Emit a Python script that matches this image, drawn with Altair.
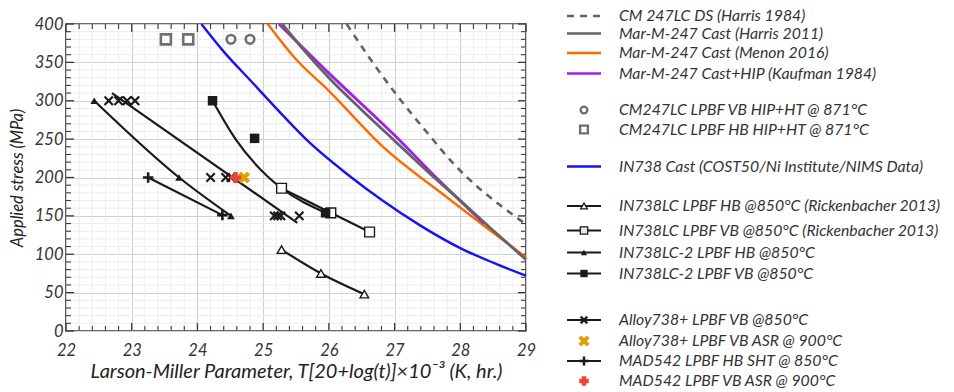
import altair as alt
import pandas as pd

# ---------------- reference curves ----------------
cm247ds_x = [26.27, 26.65, 27.1, 27.5, 27.93, 28.26, 28.62, 29.0]
cm247ds_y = [400, 352, 300, 258, 215, 188, 163, 139]

harris_x = [25.29, 25.6, 26.0, 26.5, 27.0, 27.5, 28.0, 28.5, 29.0]
harris_y = [400, 368, 330, 288, 248, 208, 170, 131, 93]

menon_x = [25.07, 25.5, 26.0, 26.8, 27.8, 28.44, 29.0]
menon_y = [400, 354, 313, 242, 174, 132, 96]

kaufman_x = [25.24, 26.0, 27.0, 27.68, 28.36]
kaufman_y = [400, 336, 255, 196, 140]

in738cast_x = [24.06, 24.4, 24.8, 25.3, 25.7, 26.3, 26.8, 27.4, 28.0, 28.5, 29.0]
in738cast_y = [400, 364, 327, 281, 246, 203, 171, 137, 108, 89, 72]

# ---------------- LPBF data points ----------------
cm247_vb_x = [24.51, 24.80]
cm247_vb_y = [380, 380]
cm247_hb_x = [23.52, 23.86]
cm247_hb_y = [380, 380]

rick_hb_x = [25.28, 25.88, 26.54]
rick_hb_y = [106, 75, 48]
rick_vb_x = [25.28, 26.03, 26.62]
rick_vb_y = [186, 154, 129]

lc2_hb_x = [22.43, 23.72, 24.51]
lc2_hb_y = [300, 200, 150]
lc2_vb_x = [24.23, 24.87, 25.95]
lc2_vb_y = [300, 251, 154]
lc2_vb_fit_x = [24.23, 24.58, 25.06, 25.28, 25.95]
lc2_vb_fit_y = [300, 250, 202, 186, 154]

alloy_x = [22.65, 22.80, 22.93, 23.05, 24.20, 24.43, 24.51, 25.17, 25.22, 25.27, 25.55]
alloy_y = [300, 300, 300, 300, 200, 200, 200, 150, 150, 150, 150]
alloy_fit_x = [22.70, 25.52]
alloy_fit_y = [310, 141]
alloy_asr_x = [24.71]
alloy_asr_y = [200]

mad_hb_x = [23.25, 24.38]
mad_hb_y = [200, 151]
mad_vb_x = [24.58]
mad_vb_y = [200]

# axis ticks
x_major = [22, 23, 24, 25, 26, 27, 28, 29]
x_minor = [round(22 + 0.2 * i, 1) for i in range(36) if i % 5 != 0]
y_major = [0, 50, 100, 150, 200, 250, 300, 350, 400]
y_minor = [v for v in range(0, 401, 10) if v % 50 != 0]

# legend
legend_labels = [
    "CM 247LC DS (Harris 1984)",
    "Mar-M-247 Cast (Harris 2011)",
    "Mar-M-247 Cast (Menon 2016)",
    "Mar-M-247 Cast+HIP (Kaufman 1984)",
    "CM247LC LPBF VB HIP+HT @ 871°C",
    "CM247LC LPBF HB HIP+HT @ 871°C",
    "IN738 Cast (COST50/Ni Institute/NIMS Data)",
    "IN738LC LPBF HB @850°C (Rickenbacher 2013)",
    "IN738LC LPBF VB @850°C (Rickenbacher 2013)",
    "IN738LC-2 LPBF HB @850°C",
    "IN738LC-2 LPBF VB @850°C",
    "Alloy738+ LPBF VB @850°C",
    "Alloy738+ LPBF VB ASR @ 900°C",
    "MAD542 LPBF HB SHT @ 850°C",
    "MAD542 LPBF VB ASR @ 900°C",
]
legend_rows = [15, 32.5, 52, 72.5, 109, 128.5, 165.5, 205, 229.5, 251.5, 272.5, 319, 340, 360, 380]

# ---------------- styling ----------------
FONT = "Lato"
GRAY = "#646464"
ORANGE = "#FF6A00"
PURPLE = "#A020E8"
BLUE = "#1414F5"
MARK_GRAY = "#707070"
GOLD = "#E0A000"
RED = "#E8453C"
INK = "#1a1a1a"
TICK = "#3a3a3a"
X_PATH = "M-1,-1L1,1M-1,1L1,-1"
PLUS_PATH = "M-1,0L1,0M0,-1L0,1"
W, H = 460, 307

xs = alt.Scale(domain=[22, 29], nice=False, zero=False)
ys = alt.Scale(domain=[0, 400], nice=False, zero=False)


def df(x, y):
    return pd.DataFrame({"x": x, "y": y, "o": list(range(len(x)))})


def enc(chart):
    return chart.encode(
        x=alt.X("x:Q", scale=xs, axis=None),
        y=alt.Y("y:Q", scale=ys, axis=None),
    )


x_label_axis = alt.Axis(
    orient="bottom", values=x_major, grid=True, gridColor="#d0d0d0", gridWidth=1.1,
    ticks=False, domain=False, labelFont=FONT, labelFontStyle="italic", labelFontSize=16.5,
    labelColor="#333333", labelPadding=11, labelFlush=False, format="d",
    title="Larson-Miller Parameter, T[20+log(t)]×10⁻³ (K, hr.)",
    titleFont=FONT, titleFontStyle="italic", titleFontWeight="normal", titleFontSize=20,
    titleColor="#222222", titlePadding=3,
)
y_label_axis = alt.Axis(
    orient="left", values=y_major, grid=True, gridColor="#d0d0d0", gridWidth=1.1,
    ticks=False, domain=False, labelFont=FONT, labelFontStyle="italic", labelFontSize=16.5,
    labelColor="#333333", labelPadding=3, labelFlush=False, format="d",
    title="Applied stress (MPa)",
    titleFont=FONT, titleFontStyle="italic", titleFontWeight="normal", titleFontSize=16.5,
    titleColor="#222222", titlePadding=9,
)

layers = []

xminor_df = pd.DataFrame({"x": x_minor})
yminor_df = pd.DataFrame({"y": y_minor})
xmajor_df = pd.DataFrame({"x": x_major})
ymajor_df = pd.DataFrame({"y": y_major})

# minor grid (rules); the first two layers carry the labelled axes with the major grid
layers.append(alt.Chart(xminor_df).mark_rule(color="#ebebeb", strokeWidth=0.9).encode(
    x=alt.X("x:Q", scale=xs, axis=x_label_axis), y=alt.value(0), y2=alt.value(H)))
layers.append(alt.Chart(yminor_df).mark_rule(color="#ebebeb", strokeWidth=0.9).encode(
    y=alt.Y("y:Q", scale=ys, axis=y_label_axis), x=alt.value(0), x2=alt.value(W)))


# inward tick marks on all four sides
def xticks(d, length, width):
    a = alt.Chart(d).mark_rule(color=TICK, strokeWidth=width).encode(
        x=alt.X("x:Q", scale=xs, axis=None), y=alt.value(H), y2=alt.value(H - length))
    b = alt.Chart(d).mark_rule(color=TICK, strokeWidth=width).encode(
        x=alt.X("x:Q", scale=xs, axis=None), y=alt.value(0), y2=alt.value(length))
    return [a, b]


def yticks(d, length, width):
    a = alt.Chart(d).mark_rule(color=TICK, strokeWidth=width).encode(
        y=alt.Y("y:Q", scale=ys, axis=None), x=alt.value(0), x2=alt.value(length))
    b = alt.Chart(d).mark_rule(color=TICK, strokeWidth=width).encode(
        y=alt.Y("y:Q", scale=ys, axis=None), x=alt.value(W), x2=alt.value(W - length))
    return [a, b]


layers += xticks(xminor_df, 5, 1.1) + xticks(xmajor_df, 8, 1.3)
layers += yticks(yminor_df, 5, 1.1) + yticks(ymajor_df, 8, 1.3)

# reference curves
layers.append(enc(alt.Chart(df(cm247ds_x, cm247ds_y)).mark_line(
    color=GRAY, strokeWidth=2.6, strokeDash=[7, 6], interpolate="monotone").encode(order="o:Q")))
layers.append(enc(alt.Chart(df(in738cast_x, in738cast_y)).mark_line(
    color=BLUE, strokeWidth=2.4, interpolate="monotone").encode(order="o:Q")))
layers.append(enc(alt.Chart(df(menon_x, menon_y)).mark_line(
    color=ORANGE, strokeWidth=2.4, interpolate="monotone").encode(order="o:Q")))
layers.append(enc(alt.Chart(df(kaufman_x, kaufman_y)).mark_line(
    color=PURPLE, strokeWidth=2.8, interpolate="monotone").encode(order="o:Q")))
layers.append(enc(alt.Chart(df(harris_x, harris_y)).mark_line(
    color=GRAY, strokeWidth=2.8, interpolate="monotone").encode(order="o:Q")))

# black connecting lines
for lx, ly in [(rick_hb_x, rick_hb_y), (rick_vb_x, rick_vb_y), (lc2_hb_x, lc2_hb_y),
               (lc2_vb_fit_x, lc2_vb_fit_y), (alloy_fit_x, alloy_fit_y), (mad_hb_x, mad_hb_y)]:
    layers.append(enc(alt.Chart(df(lx, ly)).mark_line(
        color=INK, strokeWidth=2.2, interpolate="monotone").encode(order="o:Q")))


def pts(x, y, **kw):
    return enc(alt.Chart(df(x, y)).mark_point(opacity=1, **kw))


layers += [
    pts(cm247_vb_x, cm247_vb_y, shape="circle", filled=False, stroke=MARK_GRAY, strokeWidth=2.6, size=75),
    pts(cm247_hb_x, cm247_hb_y, shape="square", filled=True, fill="white", stroke=MARK_GRAY, strokeWidth=2.6, size=100),
    pts(rick_hb_x, rick_hb_y, shape="triangle-up", filled=True, fill="white", stroke=INK, strokeWidth=1.4, size=75),
    pts(rick_vb_x, rick_vb_y, shape="square", filled=True, fill="white", stroke=INK, strokeWidth=1.4, size=95),
    pts(lc2_hb_x, lc2_hb_y, shape="triangle-up", filled=True, fill=INK, size=60),
    pts(lc2_vb_x, lc2_vb_y, shape="square", filled=True, fill=INK, size=90),
    pts(alloy_x, alloy_y, shape=X_PATH, filled=False, stroke=INK, strokeWidth=2.2, size=70),
    pts(mad_hb_x, mad_hb_y, shape=PLUS_PATH, filled=False, stroke=INK, strokeWidth=2.6, size=110),
    pts(alloy_asr_x, alloy_asr_y, shape=X_PATH, filled=False, stroke=GOLD, strokeWidth=4, size=80),
    pts(mad_vb_x, mad_vb_y, shape=PLUS_PATH, filled=False, stroke=RED, strokeWidth=4.5, size=120),
]

plot = alt.layer(*layers).resolve_axis(x="independent", y="independent").properties(
    width=W, height=H,
    view=alt.ViewBackground(stroke="#3a3a3a", strokeWidth=1.7),
)

# ---------------- legend panel ----------------
leg_y = alt.Scale(domain=[23, 330], reverse=True, nice=False, zero=False)
legend_df = pd.DataFrame({"label": legend_labels, "row": legend_rows})


def row_df(i):
    return legend_df.iloc[[i]]


def leg_line(i, color, width=2.6, dash=None):
    kw = dict(color=color, strokeWidth=width)
    if dash:
        kw["strokeDash"] = dash
    return alt.Chart(row_df(i)).mark_rule(**kw).encode(
        x=alt.value(8), x2=alt.value(42), y=alt.Y("row:Q", scale=leg_y, axis=None))


def leg_pt(i, **kw):
    return alt.Chart(row_df(i)).mark_point(opacity=1, **kw).encode(
        x=alt.value(25), y=alt.Y("row:Q", scale=leg_y, axis=None))


leg_layers = [
    leg_line(0, GRAY, dash=[7, 6]),
    leg_line(1, GRAY),
    leg_line(2, ORANGE),
    leg_line(3, PURPLE),
    leg_pt(4, shape="circle", filled=False, stroke=MARK_GRAY, strokeWidth=2.4, size=45),
    leg_pt(5, shape="square", filled=True, fill="white", stroke=MARK_GRAY, strokeWidth=2.4, size=60),
    leg_line(6, BLUE),
    leg_line(7, INK, 2.2), leg_pt(7, shape="triangle-up", filled=True, fill="white", stroke=INK, strokeWidth=1.3, size=45),
    leg_line(8, INK, 2.2), leg_pt(8, shape="square", filled=True, fill="#e8e8e8", stroke=INK, strokeWidth=1.3, size=55),
    leg_line(9, INK, 2.2), leg_pt(9, shape="triangle-up", filled=True, fill=INK, size=40),
    leg_line(10, INK, 2.2), leg_pt(10, shape="square", filled=True, fill=INK, size=55),
    leg_line(11, INK, 2.2), leg_pt(11, shape=X_PATH, filled=False, stroke=INK, strokeWidth=2.2, size=45),
    leg_pt(12, shape=X_PATH, filled=False, stroke=GOLD, strokeWidth=4, size=70),
    leg_line(13, INK, 2.2), leg_pt(13, shape=PLUS_PATH, filled=False, stroke=INK, strokeWidth=2.4, size=80),
    leg_pt(14, shape=PLUS_PATH, filled=False, stroke=RED, strokeWidth=4.5, size=90),
    alt.Chart(legend_df).mark_text(
        align="left", baseline="middle", font=FONT, fontStyle="italic", fontSize=15.8, color="#333333"
    ).encode(x=alt.value(60), y=alt.Y("row:Q", scale=leg_y, axis=None), text="label:N"),
]
legend = alt.layer(*leg_layers).properties(width=370, height=307)

chart = alt.hconcat(plot, legend, spacing=33, bounds="flush").properties(
    padding={"left": 8, "top": 8, "right": 5, "bottom": 5}
).configure_view(stroke=None)

chart.save("out.html", embed_options={"renderer": "svg", "actions": False})
